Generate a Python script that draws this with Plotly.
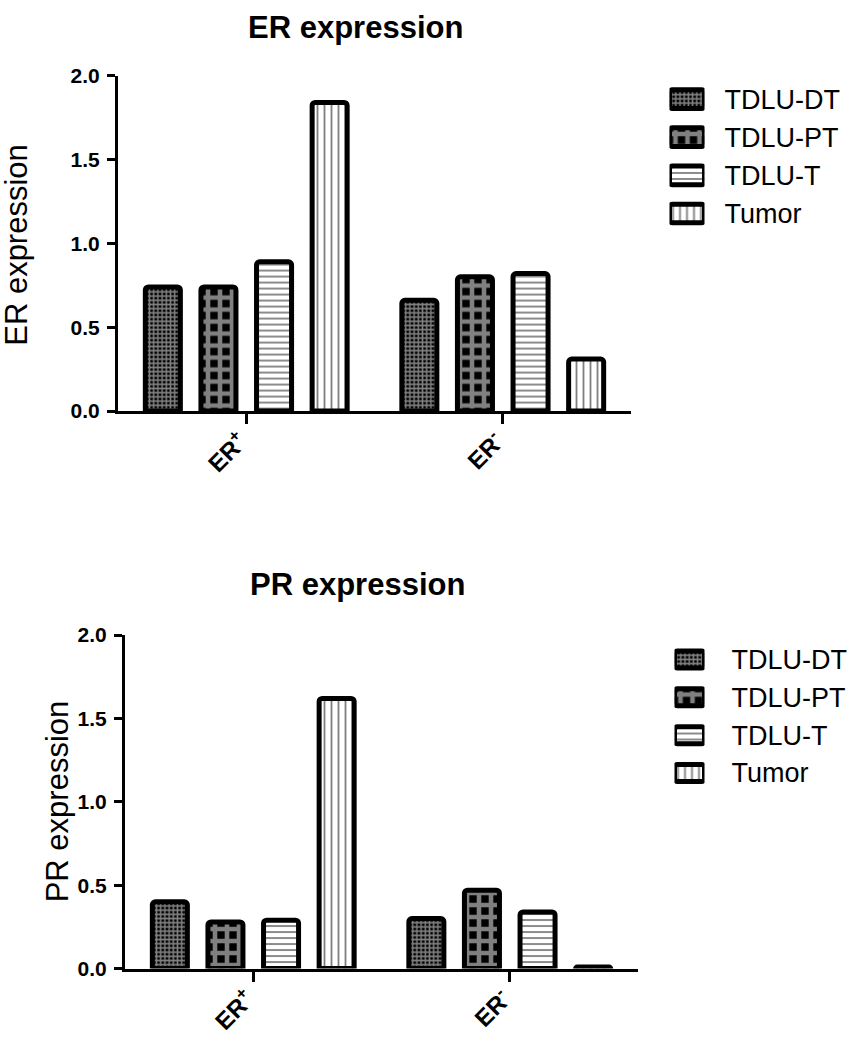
import plotly.graph_objects as go

# ---------------- data ----------------
categories = ["ER+", "ER-"]
category_labels = ["ER<sup>+</sup>", "ER<sup>-</sup>"]
series = ["TDLU-DT", "TDLU-PT", "TDLU-T", "Tumor"]

er_tdlu_dt = [0.74, 0.66]
er_tdlu_pt = [0.74, 0.80]
er_tdlu_t = [0.89, 0.82]
er_tumor = [1.84, 0.31]

pr_tdlu_dt = [0.40, 0.30]
pr_tdlu_pt = [0.28, 0.47]
pr_tdlu_t = [0.29, 0.34]
pr_tumor = [1.62, 0.01]

y_tick_vals = [0.0, 0.5, 1.0, 1.5, 2.0]
y_tick_text = ["0.0", "0.5", "1.0", "1.5", "2.0"]

er_values = [er_tdlu_dt, er_tdlu_pt, er_tdlu_t, er_tumor]
pr_values = [pr_tdlu_dt, pr_tdlu_pt, pr_tdlu_t, pr_tumor]
legend_len = [1, 1, 1, 1]

# ---------------- styles ----------------
FONT = "Liberation Sans, Arial, Helvetica, sans-serif"
patterns = {
    "TDLU-DT": dict(shape="+", size=4.2, solidity=0.6, fgcolor="white", bgcolor="black"),
    "TDLU-PT": dict(shape="+", size=12, solidity=0.62, fgcolor="white", bgcolor="black"),
    "TDLU-T": dict(shape="-", size=6, solidity=0.3, fgcolor="black", bgcolor="white"),
    "Tumor": dict(shape="|", size=7, solidity=0.26, fgcolor="black", bgcolor="white"),
}

fig = go.Figure()

for name, vals in zip(series, er_values):
    fig.add_trace(go.Bar(
        x=categories, y=vals, name=name, xaxis="x", yaxis="y",
        marker=dict(color="white", line=dict(color="black", width=5),
                    cornerradius=3, pattern=patterns[name]),
        showlegend=False,
    ))
for name, vals in zip(series, pr_values):
    fig.add_trace(go.Bar(
        x=categories, y=vals, name=name, xaxis="x2", yaxis="y2",
        marker=dict(color="white", line=dict(color="black", width=5),
                    cornerradius=3, pattern=patterns[name]),
        showlegend=False,
    ))

# legend keys (drawn as small bars on their own axes)
def legend_trace(xa, ya, width):
    return go.Bar(
        x=legend_len, y=series, orientation="h", base=0, width=width,
        xaxis=xa, yaxis=ya, cliponaxis=False, showlegend=False, hoverinfo="skip",
        marker=dict(
            color="white", line=dict(color="black", width=5), cornerradius=3,
            pattern=dict(
                shape=[patterns[s]["shape"] for s in series],
                size=[patterns[s]["size"] for s in series],
                solidity=[patterns[s]["solidity"] for s in series],
                fgcolor=[patterns[s]["fgcolor"] for s in series],
                bgcolor=[patterns[s]["bgcolor"] for s in series],
            ),
        ),
    )

fig.add_trace(legend_trace("x3", "y3", 0.49))
fig.add_trace(legend_trace("x4", "y4", 0.45))

W, H = 848, 1050

def px_x(a, b):
    return [a / W, b / W]

def px_y(top, bottom):
    return [1 - bottom / H, 1 - top / H]

common_x = dict(
    type="category", range=[-0.5, 1.5], showline=True, linewidth=3, linecolor="black",
    ticks="outside", ticklen=10, tickwidth=3, tickcolor="black",
    tickmode="array", tickvals=categories, ticktext=category_labels, tickangle=-45,
    tickfont=dict(family=FONT, size=24, color="black", weight="bold"),
    ticklabelstandoff=-6, ticklabelshift=-6,
    showgrid=False, zeroline=False, fixedrange=True,
)
common_y = dict(
    range=[0, 2], showline=True, linewidth=3, linecolor="black",
    ticks="outside", ticklen=8, tickwidth=3, tickcolor="black",
    tickmode="array", tickvals=y_tick_vals, ticktext=y_tick_text,
    tickfont=dict(family=FONT, size=21, color="black", weight="bold"),
    ticklabelstandoff=3, showgrid=False, zeroline=False, fixedrange=True,
)
legend_x = dict(range=[0, 1], visible=False, fixedrange=True)
legend_y = dict(
    type="category", autorange="reversed", side="right", showline=False, ticks="",
    showgrid=False, zeroline=False, fixedrange=True,
    tickfont=dict(family=FONT, size=27, color="black"),
)

fig.update_layout(
    width=W, height=H,
    margin=dict(l=0, r=0, t=0, b=0),
    paper_bgcolor="white", plot_bgcolor="white",
    barmode="group", bargap=0.133, bargroupgap=0.37,
    xaxis=dict(domain=px_x(118, 631), anchor="y", **common_x),
    yaxis=dict(domain=px_y(65, 408), anchor="x", **common_y),
    xaxis2=dict(domain=px_x(125, 638), anchor="y2", **common_x),
    yaxis2=dict(domain=px_y(637, 978), anchor="x2", **common_y),
    xaxis3=dict(domain=px_x(669.5, 704.5), anchor="y3", **legend_x),
    yaxis3=dict(domain=px_y(69.5, 225.5), anchor="x3", ticklabelstandoff=19, **legend_y),
    xaxis4=dict(domain=px_x(674.5, 704.5), anchor="y4", **legend_x),
    yaxis4=dict(domain=px_y(642.6, 797.4), anchor="x4", ticklabelstandoff=26, **legend_y),
    showlegend=False,
    annotations=[
        dict(text="<b>ER expression</b>", x=355 / W, y=1 - 16 / H, xref="paper", yref="paper",
             xanchor="center", yanchor="middle", showarrow=False,
             font=dict(family=FONT, size=31, color="black")),
        dict(text="<b>PR expression</b>", x=357 / W, y=1 - 585 / H, xref="paper", yref="paper",
             xanchor="center", yanchor="middle", showarrow=False,
             font=dict(family=FONT, size=31, color="black")),
        dict(text="ER expression", x=17 / W, y=1 - 238 / H, xref="paper", yref="paper",
             xanchor="center", yanchor="middle", showarrow=False, textangle=-90,
             font=dict(family=FONT, size=31, color="black")),
        dict(text="PR expression", x=57 / W, y=1 - 807 / H, xref="paper", yref="paper",
             xanchor="center", yanchor="middle", showarrow=False, textangle=-90,
             font=dict(family=FONT, size=31, color="black")),
    ],
)

fig.write_html(
    "out.html",
    config={"displayModeBar": False, "staticPlot": True},
    post_script="document.body.style.margin='0';document.body.style.overflow='hidden';",
)
